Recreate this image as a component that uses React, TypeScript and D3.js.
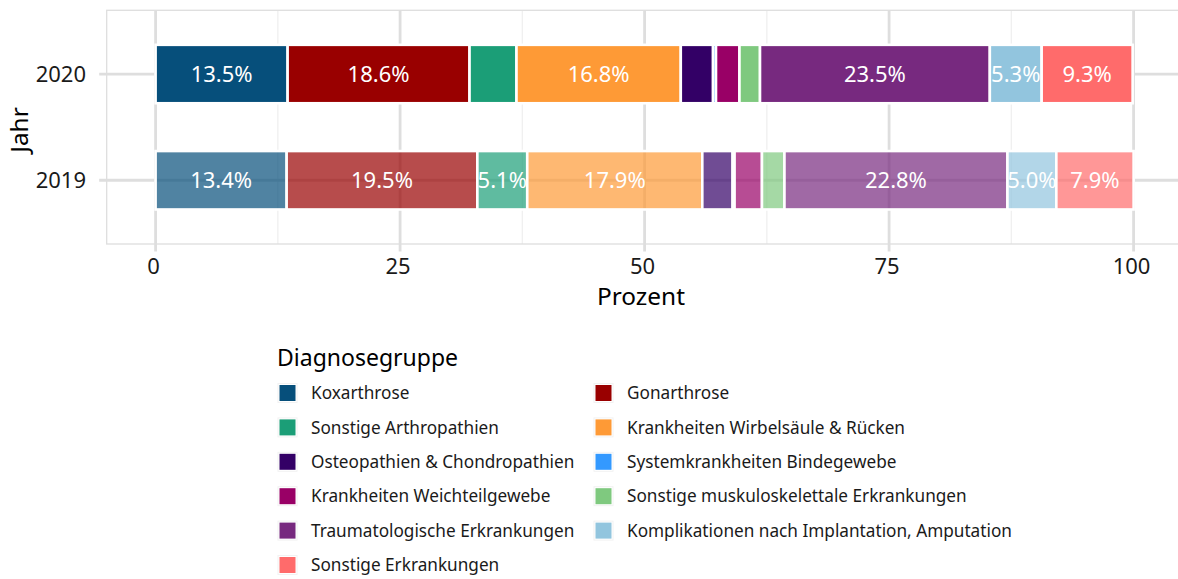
import React from 'react';
import { scaleLinear, scaleBand } from 'd3';

const years = ['2020', '2019'];

const groups = [
  'Koxarthrose',
  'Gonarthrose',
  'Sonstige Arthropathien',
  'Krankheiten Wirbelsäule & Rücken',
  'Osteopathien & Chondropathien',
  'Systemkrankheiten Bindegewebe',
  'Krankheiten Weichteilgewebe',
  'Sonstige muskuloskelettale Erkrankungen',
  'Traumatologische Erkrankungen',
  'Komplikationen nach Implantation, Amputation',
  'Sonstige Erkrankungen',
];

const groupColors = [
  '#064f7b', '#990000', '#1b9e77', '#fe9a36', '#330066', '#3399ff',
  '#990066', '#7fc97f', '#77297f', '#92c5de', '#ff6b6b',
];

const values2020 = [13.5, 18.6, 4.8, 16.8, 3.3, 0.3, 2.4, 2.1, 23.5, 5.3, 9.3];
const values2019 = [13.4, 19.5, 5.1, 17.9, 3.1, 0.2, 2.8, 2.3, 22.8, 5.0, 7.9];

const xTicks = [0, 25, 50, 75, 100];
const xMinorTicks = [12.5, 37.5, 62.5, 87.5];

const W = 1178;
const H = 579;
const panel = { left: 106.7, top: 10.3, bottom: 244 };
const font = '"Noto Sans", sans-serif';
const gridCol = '#dedede';

function App() {
  const x = scaleLinear().domain([-5, 105]).range([panel.left, panel.left + 110 * 9.78]);
  const y = scaleBand().domain(years).range([panel.top, panel.bottom]).paddingInner(0).paddingOuter(0.1);
  const barH = y.bandwidth() * 0.55;

  const seriesByYear: Record<string, number[]> = { '2020': values2020, '2019': values2019 };

  const stacks = years.map(yr => {
    let acc = 0;
    return seriesByYear[yr].map((v, i) => {
      const seg = { year: yr, i, v, x0: acc, x1: acc + v };
      acc += v;
      return seg;
    });
  });

  return (
    <div style={{ position: 'absolute', left: 0, top: 0 }}>
      <svg width={W} height={H} style={{ display: 'block', background: '#fff' }} fontFamily={font}>
        {/* minor grid */}
        {xMinorTicks.map(t => (
          <line key={'mn' + t} x1={x(t)} x2={x(t)} y1={panel.top} y2={panel.bottom} stroke="#f0f0f0" strokeWidth={1.4} />
        ))}
        {/* major grid + ticks */}
        {xTicks.map(t => (
          <line key={'mj' + t} x1={x(t)} x2={x(t)} y1={panel.top} y2={panel.bottom + 7.5} stroke={gridCol} strokeWidth={2.8} />
        ))}
        {years.map(yr => {
          const cy = (y(yr) as number) + y.bandwidth() / 2;
          return (
            <line key={'hy' + yr} x1={panel.left - 7.5} x2={W + 10} y1={cy} y2={cy} stroke={gridCol} strokeWidth={2.8} />
          );
        })}
        <rect x={panel.left} y={panel.top} width={W} height={panel.bottom - panel.top} fill="none" stroke={gridCol} strokeWidth={1.3} />

        {/* bars */}
        {stacks.map(segs =>
          segs.map(s => {
            const cy = (y(s.year) as number) + y.bandwidth() / 2;
            return (
              <rect
                key={s.year + '-' + s.i}
                x={x(s.x0)}
                y={cy - barH / 2}
                width={x(s.x1) - x(s.x0)}
                height={barH}
                fill={groupColors[s.i]}
                fillOpacity={s.year === '2019' ? 0.7 : 1}
                stroke="#fff"
                strokeWidth={2.6}
              />
            );
          })
        )}
        {stacks.map(segs =>
          segs.filter(s => s.v >= 5).map(s => {
            const cy = (y(s.year) as number) + y.bandwidth() / 2;
            return (
              <text
                key={'lb' + s.year + s.i}
                x={(x(s.x0) + x(s.x1)) / 2}
                y={cy}
                dy="0.36em"
                textAnchor="middle"
                fill="#fff"
                fontSize={22}
              >
                {s.v.toFixed(1) + '%'}
              </text>
            );
          })
        )}

        {/* axis labels */}
        {years.map(yr => (
          <text key={'yl' + yr} x={86} y={(y(yr) as number) + y.bandwidth() / 2} dy="0.36em" textAnchor="end" fontSize={22} fill="#1a1a1a">
            {yr}
          </text>
        ))}
        {xTicks.map(t => (
          <text key={'xl' + t} x={x(t) - 2} y={274} textAnchor="middle" fontSize={22} fill="#1a1a1a">
            {t}
          </text>
        ))}
        <text x={641} y={305} textAnchor="middle" fontSize={24.4} fill="#000">Prozent</text>
        <text transform="translate(28,130) rotate(-90)" textAnchor="middle" fontSize={24.4} fill="#000">Jahr</text>

        {/* legend */}
        <text x={277} y={366} fontSize={23} fill="#000">Diagnosegruppe</text>
        {groups.map((g, i) => {
          const col = i % 2;
          const row = Math.floor(i / 2);
          const kx = col === 0 ? 278 : 594;
          const cy = 393 + row * 34.4;
          return (
            <g key={'lg' + i}>
              <rect x={kx} y={cy - 9.5} width={19} height={19} fill="#fff" stroke="#f2f2f2" strokeWidth={1} />
              <rect x={kx + 1.5} y={cy - 8} width={16} height={16} fill={groupColors[i]} />
              <text x={kx + 33} y={cy} dy="0.36em" fontSize={17.2} fill="#1a1a1a">{g}</text>
            </g>
          );
        })}
      </svg>
    </div>
  );
}

export default App;
